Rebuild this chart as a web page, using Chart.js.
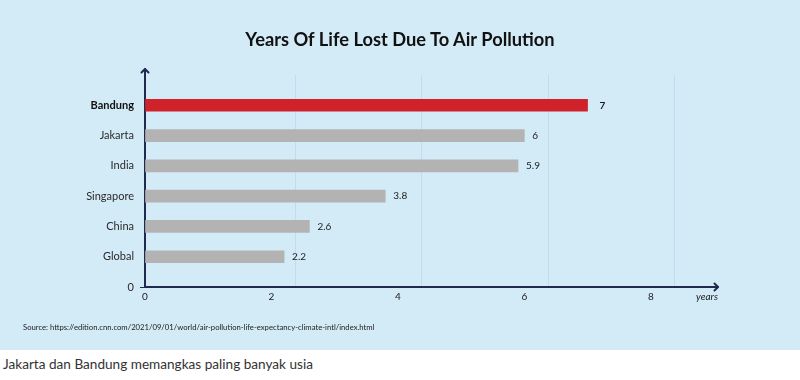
<!DOCTYPE html>
<html>
<head>
<meta charset="utf-8">
<script src="https://cdn.jsdelivr.net/npm/chart.js@4"></script>
<style>
  html, body { margin: 0; padding: 0; background: #ffffff; }
  #wrap { position: relative; width: 800px; height: 350px; background: #D3EAF7; }
  #title { position: absolute; left: 0; width: 800px; top: 28px; text-align: center; font-family: Lato, sans-serif; font-weight: bold; font-size: 18.3px; color: #111111; white-space: nowrap; }
  #source { position: absolute; left: 23px; top: 322px; font-family: Lato, sans-serif; font-size: 7.7px; color: #1b1b1b; white-space: nowrap; }
  #caption { position: absolute; left: 3px; top: 356px; font-family: Lato, sans-serif; font-size: 13.6px; color: #333; white-space: nowrap; }
</style>
</head>
<body>
<div id="wrap">
  <canvas id="c" width="800" height="350"></canvas>
  <div id="title"></div>
  <div id="source">Source: https://edition.cnn.com/2021/09/01/world/air-pollution-life-expectancy-climate-intl/index.html</div>
</div>
<div id="caption">Jakarta dan Bandung memangkas paling banyak usia</div>
<script>
const categories = ['Bandung', 'Jakarta', 'India', 'Singapore', 'China', 'Global'];
const yearsLost = [7, 6, 5.9, 3.8, 2.6, 2.2];
const highlight = 'Bandung';
const xTicks = [0, 2, 4, 6, 8];
const yZeroLabel = '0';
const titleText = 'Years Of Life Lost Due To Air Pollution';
const xUnit = 'years';

document.getElementById('title').textContent = titleText;

const NAVY = '#1E2B4F';
const axisLabels = [''].concat(categories, [yZeroLabel]);
const axisData = [null].concat(yearsLost, [null]);
const barColors = axisLabels.map(l => l === highlight ? '#D0222A' : '#B3B3B3');

const decor = {
  id: 'decor',
  afterDraw(chart) {
    const ctx = chart.ctx, a = chart.chartArea;
    ctx.save();
    ctx.strokeStyle = NAVY; ctx.lineWidth = 2; ctx.lineCap = 'round'; ctx.lineJoin = 'round';
    // y arrow
    ctx.beginPath(); ctx.moveTo(a.left, a.top + 2); ctx.lineTo(a.left, a.top - 6); ctx.stroke();
    ctx.beginPath(); ctx.moveTo(a.left - 3.5, a.top - 2.5); ctx.lineTo(a.left, a.top - 6); ctx.lineTo(a.left + 3.5, a.top - 2.5); ctx.stroke();
    // x arrow
    ctx.beginPath(); ctx.moveTo(a.right - 2, a.bottom); ctx.lineTo(a.right + 4, a.bottom); ctx.stroke();
    ctx.beginPath(); ctx.moveTo(a.right + 0.5, a.bottom - 3.5); ctx.lineTo(a.right + 4, a.bottom); ctx.lineTo(a.right + 0.5, a.bottom + 3.5); ctx.stroke();
    // unit label
    ctx.fillStyle = '#1b1b1b';
    ctx.font = 'italic 10px Lato, sans-serif';
    ctx.textAlign = 'right'; ctx.textBaseline = 'middle';
    ctx.fillText(xUnit, a.right + 4, a.bottom + 10);
    // value labels
    const meta = chart.getDatasetMeta(0);
    meta.data.forEach((bar, i) => {
      const v = axisData[i];
      if (v === null) return;
      const isHi = axisLabels[i] === highlight;
      ctx.font = (isHi ? 'bold ' : '') + '10px Lato, sans-serif';
      ctx.textAlign = 'left';
      ctx.fillStyle = '#1b1b1b';
      ctx.fillText(String(v), bar.x + (isHi ? 12 : 8), bar.y);
    });
    ctx.restore();
  }
};

new Chart(document.getElementById('c'), {
  type: 'bar',
  data: {
    labels: axisLabels,
    datasets: [{
      data: axisData,
      backgroundColor: barColors,
      borderWidth: 0,
      barThickness: 12
    }]
  },
  options: {
    indexAxis: 'y',
    responsive: false,
    animation: false,
    layout: { padding: { left: 0, right: 86, top: 75, bottom: 43 } },
    plugins: {
      legend: { display: false },
      tooltip: { enabled: false },
      title: { display: false }
    },
    scales: {
      x: {
        type: 'linear',
        min: 0, max: 9,
        border: { display: true, color: NAVY, width: 2 },
        grid: { drawOnChartArea: false, drawTicks: false },
        ticks: {
          stepSize: 2, includeBounds: false, padding: 4,
          color: '#1b1b1b',
          font: { family: 'Lato, sans-serif', size: 10 },
          callback: (v) => xTicks.includes(v) ? String(v) : ''
        }
      },
      xg: {
        type: 'linear',
        position: 'top',
        min: -0.38, max: 8.62,
        border: { display: false },
        grid: {
          drawTicks: false,
          color: (c) => (c.tick && c.tick.value === 0) ? 'rgba(0,0,0,0)' : '#C3DCEA',
          lineWidth: 1
        },
        ticks: { display: false, stepSize: 2, includeBounds: false }
      },
      y: {
        type: 'category',
        offset: false,
        afterFit: (s) => { s.width = 145; },
        border: { display: true, color: NAVY, width: 2 },
        grid: {
          offset: false,
          drawOnChartArea: false,
          drawTicks: true,
          tickLength: 5,
          tickColor: (c) => (c.index === axisLabels.length - 1) ? NAVY : 'rgba(0,0,0,0)'
        },
        ticks: {
          padding: 6,
          color: (c) => axisLabels[c.index] === highlight ? '#111111' : '#2a2a2a',
          font: (c) => ({ family: 'Lato, sans-serif', size: 11, weight: axisLabels[c.index] === highlight ? 'bold' : 'normal' })
        }
      }
    }
  },
  plugins: [decor]
});
</script>
</body>
</html>
